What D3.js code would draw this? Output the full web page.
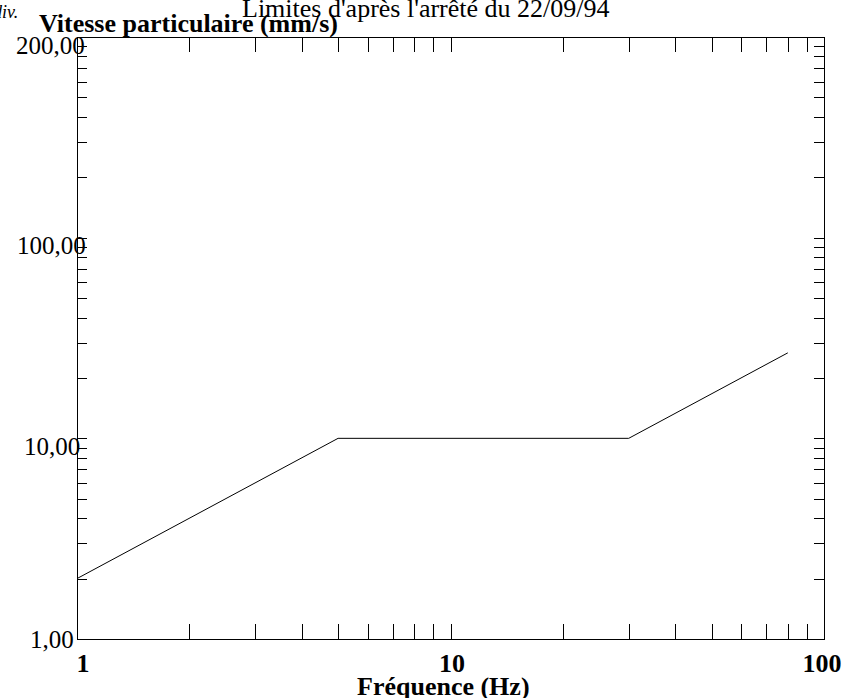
<!DOCTYPE html>
<html>
<head>
<meta charset="utf-8">
<script src="https://cdn.jsdelivr.net/npm/d3@7"></script>
<style>
  html, body { margin: 0; padding: 0; background: #fff; }
</style>
</head>
<body>
<svg id="chart" width="848" height="698"></svg>
<script>
// ---- data ----
const frequencies = [1, 5, 30, 80];          // Hz
const velocities  = [2, 10, 10, 26.67];     // mm/s
const xDomain = [1, 100];
const yDomain = [1, 1000];
const xTickValues = [1, 10, 100];
const xTickLabels = ["1", "10", "100"];
const yTickValues = [1, 10, 100, 1000];
const yTickLabels = ["1,00", "10,00", "100,00", "200,00"];
const chartTitle = "Limites d'après l'arrêté du 22/09/94";
const yTitle = "Vitesse particulaire (mm/s)";
const yPrefix = "div.";
const xTitle = "Fréquence (Hz)";

// ---- font detection: prefer a Times-like serif ----
function fontAvailable(f) {
  const ctx = document.createElement("canvas").getContext("2d");
  const s = "Limites particulaire 0123456789 WMmi";
  ctx.font = "40px monospace";
  const a = ctx.measureText(s).width;
  ctx.font = `40px '${f}', monospace`;
  const b = ctx.measureText(s).width;
  return Math.abs(a - b) > 0.5;
}
const serifCandidates = ["Liberation Serif", "Tinos", "Times New Roman", "Nimbus Roman",
  "DejaVu Serif", "Noto Serif", "FreeSerif"];
const found = serifCandidates.find(fontAvailable);
const FONT = found ? `'${found}', serif` : "'Liberation Sans', Arial, sans-serif";
const fit = !found || found === "DejaVu Serif" || found === "Noto Serif" || found === "FreeSerif";
// sans fallback has taller caps than Times: shrink so glyph heights match
const fs = v => (found && !fit) ? v : v * 0.925;

// ---- layout ----
const mLeft = 77, mRight = 824, mTop = 37, mBottom = 639;
const svg = d3.select("#chart");

const x = d3.scaleLog().domain(xDomain).range([mLeft, mRight]);
const y = d3.scaleLog().domain(yDomain).range([mBottom, mTop]);

const xMinor = x.ticks();
const yMinor = y.ticks();

function styleAxis(g) {
  g.selectAll("path, line").attr("stroke", "#000").attr("stroke-width", 1)
   .attr("shape-rendering", "crispEdges");
}

svg.append("g").attr("transform", `translate(0,${mBottom})`)
  .call(d3.axisBottom(x).tickValues(xMinor).tickSize(-15).tickSizeOuter(0).tickFormat(""))
  .call(styleAxis);
svg.append("g").attr("transform", `translate(0,${mTop})`)
  .call(d3.axisTop(x).tickValues(xMinor).tickSize(-15).tickSizeOuter(0).tickFormat(""))
  .call(styleAxis);
svg.append("g").attr("transform", `translate(${mLeft},0)`)
  .call(d3.axisLeft(y).tickValues(yMinor).tickSize(-10).tickSizeOuter(0).tickFormat(""))
  .call(styleAxis);
svg.append("g").attr("transform", `translate(${mRight},0)`)
  .call(d3.axisRight(y).tickValues(yMinor).tickSize(-10).tickSizeOuter(0).tickFormat(""))
  .call(styleAxis);

// helper: optionally force the rendered width to match Times metrics
function sized(sel, w) {
  if (fit) sel.attr("textLength", w).attr("lengthAdjust", "spacingAndGlyphs");
  return sel;
}

// ---- x tick labels ----
const xLabelDx = [6, 1.5, -2];
const xLabelW = [10, 25, 37];
svg.append("g").selectAll("text").data(xTickValues).join("text")
  .attr("x", (d, i) => x(d) + xLabelDx[i])
  .attr("y", mBottom + 33)
  .attr("text-anchor", "middle")
  .style("font-family", FONT)
  .attr("font-size", fs(26)).attr("font-weight", "bold")
  .text((d, i) => xTickLabels[i])
  .each(function(d, i) { sized(d3.select(this), xLabelW[i]); });

// ---- y tick labels ----
const yLabelX0 = [30, 24, 17, 16];
const yLabelW = [46, 58, 72, 69];
svg.append("g").selectAll("text").data(yTickValues).join("text")
  .attr("x", (d, i) => yLabelX0[i])
  .attr("y", (d, i) => i === 0 ? y(d) + 8.5 : y(d) + 16.5)
  .attr("text-anchor", "start")
  .style("font-family", FONT)
  .attr("font-size", fs(25))
  .text((d, i) => yTickLabels[i])
  .each(function(d, i) { sized(d3.select(this), yLabelW[i]); });

// ---- titles ----
sized(svg.append("text")
  .attr("x", 242).attr("y", 16.5)
  .style("font-family", FONT).attr("font-size", fs(26))
  .text(chartTitle), 415);

sized(svg.append("text")
  .attr("x", 39).attr("y", 32)
  .style("font-family", FONT)
  .attr("font-size", fs(26)).attr("font-weight", "bold")
  .text(yTitle), 303);

sized(svg.append("text")
  .attr("x", -7).attr("y", 18)
  .style("font-family", FONT)
  .attr("font-size", fs(18)).attr("font-style", "italic")
  .text(yPrefix), 27);

sized(svg.append("text")
  .attr("x", 357).attr("y", 695)
  .style("font-family", FONT)
  .attr("font-size", fs(26)).attr("font-weight", "bold")
  .text(xTitle), 175);

// ---- data line ----
const pts = frequencies.map((f, i) => [f, velocities[i]]);
svg.append("path")
  .datum(pts)
  .attr("fill", "none").attr("stroke", "#000").attr("stroke-width", 1)
  .attr("d", d3.line().x(d => x(d[0])).y(d => y(d[1])));
</script>
</body>
</html>
